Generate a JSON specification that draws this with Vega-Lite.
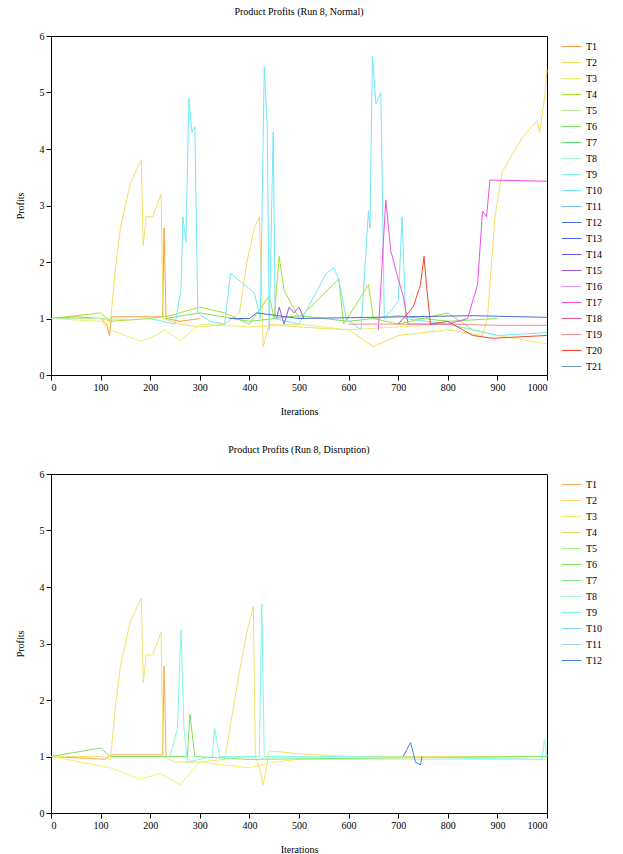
{
  "$schema": "https://vega.github.io/schema/vega-lite/v6.json",
  "padding": {"left": 14, "top": 6, "right": 0, "bottom": 0},
  "spacing": 27,
  "config": {
    "font": "Liberation Serif",
    "view": {"stroke": "black", "strokeWidth": 1},
    "axis": {"grid": false, "domain": false, "tickColor": "black", "labelColor": "black", "titleColor": "black", "labelFontSize": 10, "titleFontSize": 10, "titleFontWeight": "normal", "tickSize": 5},
    "axisX": {"titlePadding": 14, "format": "d"},
    "axisY": {"titlePadding": 14},
    "title": {"fontSize": 10, "fontWeight": "normal", "color": "black", "offset": 14},
    "legend": {"labelFontSize": 10, "symbolType": "stroke", "symbolSize": 400, "symbolStrokeWidth": 1.5, "rowPadding": 0, "title": null, "labelColor": "black", "offset": 12},
    "line": {"strokeWidth": 1, "interpolate": "linear"}
  },
  "datasets": {
    "top": [
      {"s":"T1","x":0,"y":1},{"s":"T1","x":50,"y":1.03},{"s":"T1","x":100,"y":1},{"s":"T1","x":112,"y":0.9},{"s":"T1","x":118,"y":0.7},{"s":"T1","x":122,"y":1.03},{"s":"T1","x":225,"y":1.03},{"s":"T1","x":228,"y":2.6},{"s":"T1","x":232,"y":1.0},{"s":"T1","x":260,"y":0.95},{"s":"T1","x":300,"y":1.0},
      {"s":"T2","x":0,"y":1},{"s":"T2","x":100,"y":1},{"s":"T2","x":120,"y":0.95},{"s":"T2","x":130,"y":1.9},{"s":"T2","x":140,"y":2.6},{"s":"T2","x":160,"y":3.4},{"s":"T2","x":182,"y":3.8},{"s":"T2","x":186,"y":2.3},{"s":"T2","x":192,"y":2.8},{"s":"T2","x":205,"y":2.8},{"s":"T2","x":222,"y":3.2},{"s":"T2","x":226,"y":1.0},{"s":"T2","x":260,"y":0.9},{"s":"T2","x":300,"y":0.85},{"s":"T2","x":350,"y":0.9},{"s":"T2","x":380,"y":1.1},{"s":"T2","x":395,"y":2.0},{"s":"T2","x":410,"y":2.6},{"s":"T2","x":420,"y":2.8},{"s":"T2","x":428,"y":0.5},{"s":"T2","x":440,"y":0.9},{"s":"T2","x":500,"y":0.85},{"s":"T2","x":600,"y":0.8},{"s":"T2","x":650,"y":0.5},{"s":"T2","x":700,"y":0.7},{"s":"T2","x":800,"y":0.8},{"s":"T2","x":870,"y":0.7},{"s":"T2","x":880,"y":1.0},{"s":"T2","x":895,"y":2.8},{"s":"T2","x":910,"y":3.6},{"s":"T2","x":930,"y":3.9},{"s":"T2","x":950,"y":4.2},{"s":"T2","x":970,"y":4.4},{"s":"T2","x":980,"y":4.5},{"s":"T2","x":985,"y":4.3},{"s":"T2","x":995,"y":4.9},{"s":"T2","x":1000,"y":5.4},
      {"s":"T3","x":0,"y":1},{"s":"T3","x":100,"y":0.95},{"s":"T3","x":120,"y":0.8},{"s":"T3","x":150,"y":0.7},{"s":"T3","x":180,"y":0.6},{"s":"T3","x":200,"y":0.65},{"s":"T3","x":230,"y":0.8},{"s":"T3","x":260,"y":0.6},{"s":"T3","x":300,"y":0.9},{"s":"T3","x":400,"y":0.85},{"s":"T3","x":500,"y":0.9},{"s":"T3","x":600,"y":0.8},{"s":"T3","x":700,"y":0.85},{"s":"T3","x":800,"y":0.9},{"s":"T3","x":900,"y":0.7},{"s":"T3","x":1000,"y":0.55},
      {"s":"T4","x":0,"y":1},{"s":"T4","x":100,"y":1.1},{"s":"T4","x":120,"y":0.95},{"s":"T4","x":200,"y":1.0},{"s":"T4","x":240,"y":1.05},{"s":"T4","x":300,"y":1.2},{"s":"T4","x":350,"y":1.1},{"s":"T4","x":400,"y":0.9},{"s":"T4","x":440,"y":1.4},{"s":"T4","x":450,"y":1.0},{"s":"T4","x":460,"y":2.1},{"s":"T4","x":470,"y":1.5},{"s":"T4","x":500,"y":1.0},{"s":"T4","x":580,"y":1.7},{"s":"T4","x":590,"y":0.9},{"s":"T4","x":640,"y":1.6},{"s":"T4","x":650,"y":1.0},{"s":"T4","x":700,"y":0.9},{"s":"T4","x":800,"y":1.1},{"s":"T4","x":850,"y":0.8},
      {"s":"T5","x":0,"y":1},{"s":"T5","x":50,"y":1},{"s":"T5","x":100,"y":1},{"s":"T5","x":165,"y":0.98},
      {"s":"T6","x":230,"y":1.0},{"s":"T6","x":300,"y":1.1},{"s":"T6","x":400,"y":0.95},{"s":"T6","x":500,"y":1.05},{"s":"T6","x":600,"y":0.95},{"s":"T6","x":700,"y":1.05},{"s":"T6","x":800,"y":0.95},{"s":"T6","x":900,"y":1.0},
      {"s":"T10","x":200,"y":1},{"s":"T10","x":250,"y":0.9},{"s":"T10","x":262,"y":1.5},{"s":"T10","x":266,"y":2.8},{"s":"T10","x":272,"y":2.35},{"s":"T10","x":278,"y":4.9},{"s":"T10","x":284,"y":4.3},{"s":"T10","x":290,"y":4.4},{"s":"T10","x":296,"y":1.1},{"s":"T10","x":320,"y":0.95},{"s":"T10","x":350,"y":0.9},{"s":"T10","x":362,"y":1.8},{"s":"T10","x":390,"y":1.6},{"s":"T10","x":410,"y":1.45},{"s":"T10","x":422,"y":1.0},{"s":"T10","x":430,"y":5.45},{"s":"T10","x":436,"y":4.4},{"s":"T10","x":440,"y":0.8},{"s":"T10","x":448,"y":4.3},{"s":"T10","x":452,"y":1.0},{"s":"T10","x":500,"y":0.9},{"s":"T10","x":555,"y":1.8},{"s":"T10","x":570,"y":1.9},{"s":"T10","x":580,"y":1.7},{"s":"T10","x":595,"y":1.0},{"s":"T10","x":625,"y":0.8},{"s":"T10","x":640,"y":2.9},{"s":"T10","x":643,"y":2.6},{"s":"T10","x":648,"y":5.65},{"s":"T10","x":655,"y":4.8},{"s":"T10","x":665,"y":5.0},{"s":"T10","x":672,"y":1.0},{"s":"T10","x":700,"y":1.3},{"s":"T10","x":708,"y":2.8},{"s":"T10","x":715,"y":1.0},{"s":"T10","x":800,"y":0.9},{"s":"T10","x":900,"y":0.7},{"s":"T10","x":1000,"y":0.75},
      {"s":"T12","x":360,"y":1.0},{"s":"T12","x":400,"y":1.0},{"s":"T12","x":415,"y":1.1},{"s":"T12","x":500,"y":1.0},{"s":"T12","x":850,"y":1.05},{"s":"T12","x":1000,"y":1.02},
      {"s":"T15","x":455,"y":1.0},{"s":"T15","x":460,"y":1.2},{"s":"T15","x":470,"y":0.9},{"s":"T15","x":480,"y":1.2},{"s":"T15","x":490,"y":1.1},{"s":"T15","x":500,"y":1.2},{"s":"T15","x":510,"y":1.0},
      {"s":"T17","x":660,"y":0.8},{"s":"T17","x":675,"y":3.1},{"s":"T17","x":685,"y":2.2},{"s":"T17","x":700,"y":1.7},{"s":"T17","x":710,"y":1.4},{"s":"T17","x":720,"y":0.9},{"s":"T17","x":800,"y":0.9},{"s":"T17","x":840,"y":1.0},{"s":"T17","x":860,"y":1.6},{"s":"T17","x":870,"y":2.9},{"s":"T17","x":878,"y":2.8},{"s":"T17","x":885,"y":3.45},{"s":"T17","x":1000,"y":3.43},
      {"s":"T19","x":600,"y":0.9},{"s":"T19","x":800,"y":0.9},{"s":"T19","x":900,"y":0.88},{"s":"T19","x":1000,"y":0.88},
      {"s":"T20","x":700,"y":0.9},{"s":"T20","x":730,"y":1.2},{"s":"T20","x":745,"y":1.6},{"s":"T20","x":752,"y":2.1},{"s":"T20","x":758,"y":1.5},{"s":"T20","x":765,"y":0.9},{"s":"T20","x":800,"y":0.95},{"s":"T20","x":850,"y":0.7},{"s":"T20","x":890,"y":0.65},{"s":"T20","x":1000,"y":0.7}
    ],
    "bottom": [
      {"t":"T1","x":0,"y":1},{"t":"T1","x":110,"y":0.95},{"t":"T1","x":120,"y":1.03},{"t":"T1","x":225,"y":1.03},{"t":"T1","x":228,"y":2.6},{"t":"T1","x":232,"y":1.0},{"t":"T1","x":260,"y":1.0},
      {"t":"T2","x":0,"y":1},{"t":"T2","x":100,"y":1},{"t":"T2","x":120,"y":0.95},{"t":"T2","x":130,"y":1.9},{"t":"T2","x":140,"y":2.6},{"t":"T2","x":160,"y":3.4},{"t":"T2","x":182,"y":3.8},{"t":"T2","x":186,"y":2.3},{"t":"T2","x":192,"y":2.8},{"t":"T2","x":205,"y":2.8},{"t":"T2","x":222,"y":3.2},{"t":"T2","x":226,"y":1.0},{"t":"T2","x":250,"y":0.9},{"t":"T2","x":300,"y":0.9},{"t":"T2","x":350,"y":0.95},{"t":"T2","x":380,"y":2.5},{"t":"T2","x":395,"y":3.2},{"t":"T2","x":408,"y":3.65},{"t":"T2","x":412,"y":1.0},{"t":"T2","x":420,"y":0.8},{"t":"T2","x":428,"y":0.5},{"t":"T2","x":440,"y":1.1},{"t":"T2","x":500,"y":1.05},{"t":"T2","x":600,"y":1.0},{"t":"T2","x":1000,"y":1.0},
      {"t":"T3","x":0,"y":1},{"t":"T3","x":120,"y":0.8},{"t":"T3","x":180,"y":0.6},{"t":"T3","x":220,"y":0.7},{"t":"T3","x":260,"y":0.5},{"t":"T3","x":300,"y":0.9},{"t":"T3","x":400,"y":0.8},{"t":"T3","x":450,"y":0.9},{"t":"T3","x":500,"y":0.95},{"t":"T3","x":1000,"y":0.95},
      {"t":"T6","x":0,"y":1},{"t":"T6","x":100,"y":1.15},{"t":"T6","x":120,"y":1.0},{"t":"T6","x":275,"y":1.0},{"t":"T6","x":280,"y":1.75},{"t":"T6","x":290,"y":1.0},{"t":"T6","x":400,"y":0.95},{"t":"T6","x":1000,"y":1.0},
      {"t":"T9","x":240,"y":1},{"t":"T9","x":255,"y":1.5},{"t":"T9","x":262,"y":3.25},{"t":"T9","x":268,"y":1.5},{"t":"T9","x":275,"y":0.9},{"t":"T9","x":325,"y":1.0},{"t":"T9","x":330,"y":1.5},{"t":"T9","x":340,"y":1.0},{"t":"T9","x":420,"y":1.0},{"t":"T9","x":425,"y":3.7},{"t":"T9","x":430,"y":1.0},{"t":"T9","x":600,"y":1.0},{"t":"T9","x":990,"y":0.95},{"t":"T9","x":995,"y":1.3},{"t":"T9","x":1000,"y":1},
      {"t":"T12","x":710,"y":1.0},{"t":"T12","x":725,"y":1.25},{"t":"T12","x":735,"y":0.9},{"t":"T12","x":745,"y":0.85},{"t":"T12","x":748,"y":1.0}
    ]
  },
  "vconcat": [
    {
      "title": "Product Profits (Run 8, Normal)",
      "width": 496, "height": 339,
      "data": {"name": "top"},
      "mark": "line",
      "encoding": {
        "x": {"field": "x", "type": "quantitative", "title": "Iterations", "scale": {"domain": [0, 1000], "nice": false}, "axis": {"tickCount": 10}},
        "y": {"field": "y", "type": "quantitative", "title": "Profits", "scale": {"domain": [0, 6], "nice": false}, "axis": {"tickCount": 6}},
        "color": {"field": "s", "type": "nominal", "scale": {
          "domain": ["T1","T2","T3","T4","T5","T6","T7","T8","T9","T10","T11","T12","T13","T14","T15","T16","T17","T18","T19","T20","T21"],
          "range": ["#f5a040","#f5dc60","#e8f070","#a8e030","#b8eca0","#80e060","#60e070","#a8f0c8","#80f0d8","#70e8f8","#70b8f0","#4870d8","#4868f0","#6858e8","#9858d8","#e898f0","#f050e0","#e05890","#f09098","#f04828","#7098c0"]}}
      }
    },
    {
      "title": "Product Profits (Run 8, Disruption)",
      "width": 496, "height": 339,
      "data": {"name": "bottom"},
      "mark": "line",
      "encoding": {
        "x": {"field": "x", "type": "quantitative", "title": "Iterations", "scale": {"domain": [0, 1000], "nice": false}, "axis": {"tickCount": 10}},
        "y": {"field": "y", "type": "quantitative", "title": "Profits", "scale": {"domain": [0, 6], "nice": false}, "axis": {"tickCount": 6}},
        "stroke": {"field": "t", "type": "nominal", "scale": {
          "domain": ["T1","T2","T3","T4","T5","T6","T7","T8","T9","T10","T11","T12"],
          "range": ["#f5a860","#f5e070","#f0f070","#c8e870","#a8f080","#80e060","#80e890","#a8f8c8","#80f8e8","#80d8f0","#a8d0f0","#4880e8"]}}
      }
    }
  ],
  "resolve": {"scale": {"color": "independent", "stroke": "independent"}, "legend": {"color": "independent", "stroke": "independent"}}
}
